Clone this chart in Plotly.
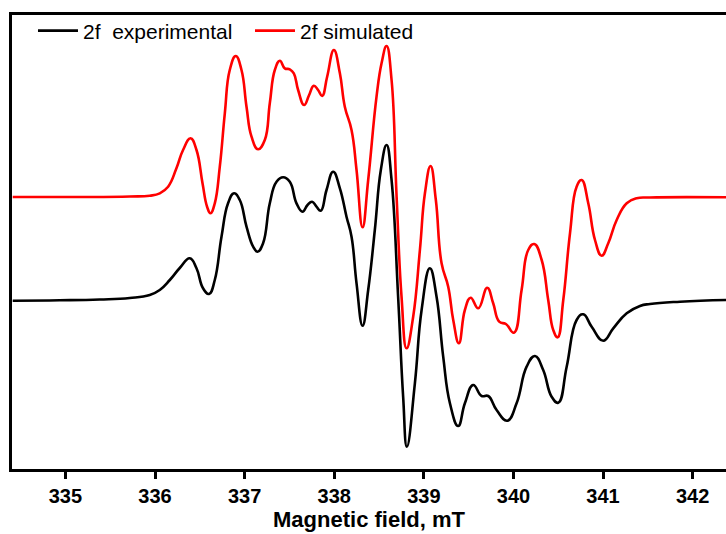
import plotly.graph_objects as go

# Magnetic field (mT) and first-derivative EPR intensity (a.u.)
field_exp = [334.412, 334.936, 335.383, 335.718, 335.941, 336.053, 336.165, 336.276,
             336.388, 336.463, 336.536, 336.603, 336.667, 336.742, 336.815, 336.882,
             336.946, 337.021, 337.095, 337.144, 337.206, 337.281, 337.356, 337.430,
             337.504, 337.579, 337.646, 337.702, 337.753, 337.802, 337.850, 337.914,
             337.988, 338.063, 338.137, 338.193, 338.249, 338.316, 338.379, 338.453,
             338.520, 338.584, 338.640, 338.713, 338.769, 338.811, 338.900, 338.975,
             339.067, 339.142, 339.216, 339.291, 339.383, 339.458, 339.551, 339.645,
             339.718, 339.812, 339.931, 340.035, 340.147, 340.240, 340.332, 340.426,
             340.500, 340.594, 340.705, 340.779, 340.873, 341.002, 341.114, 341.264,
             341.412, 341.524, 341.859, 342.372]
int_exp = [-0.7, -0.3, 0.5, 2, 5, 10, 20, 32,
           41.7, 31.7, 11.7, 6, 20, 63.3, 96.7, 106.7,
           100, 73.3, 53.3, 48.3, 56.7, 96.7, 118.3, 122.7,
           118.3, 96.7, 88.3, 95, 98.3, 93.3, 89.3, 110,
           128.3, 111.7, 83.3, 63.3, 16.7, -25.7, 10, 70,
           130, 155, 120, 3.3, -96.7, -146.7, -83.3, -10,
           31.7, 3.3, -56.7, -103.3, -126, -103.3, -85, -96,
           -96, -110, -120.7, -103.3, -66.7, -56, -70, -96.7,
           -102.7, -66.7, -20, -14.3, -26.7, -40.7, -28.3, -13.3,
           -6, -4, -1.7, 0]

field_sim = [334.412, 335.160, 335.718, 335.941, 336.053, 336.146, 336.239, 336.313,
             336.396, 336.463, 336.530, 336.581, 336.619, 336.667, 336.723, 336.779,
             336.834, 336.901, 336.965, 337.021, 337.077, 337.150, 337.225, 337.281,
             337.337, 337.393, 337.448, 337.504, 337.549, 337.597, 337.664, 337.720,
             337.772, 337.820, 337.865, 337.921, 337.996, 338.063, 338.118, 338.193,
             338.249, 338.316, 338.379, 338.472, 338.528, 338.584, 338.640, 338.696,
             338.751, 338.807, 338.881, 338.956, 339.012, 339.075, 339.134, 339.198,
             339.272, 339.328, 339.391, 339.458, 339.522, 339.607, 339.707, 339.774,
             339.841, 339.916, 340.005, 340.091, 340.165, 340.232, 340.315, 340.388,
             340.444, 340.493, 340.556, 340.631, 340.705, 340.761, 340.835, 340.910,
             340.984, 341.058, 341.152, 341.264, 341.375, 341.524, 342.372]
int_sim = [0, 0, 0.5, 1.3, 3.7, 10.3, 28.7, 47,
           58.7, 47, 13.7, -9.7, -16.3, -6.3, 30.3, 83.7,
           127, 141, 127, 90.3, 60.3, 47.7, 57, 93.7,
           127, 136.3, 128.7, 127.7, 123.7, 107, 92, 102,
           111.3, 107, 101, 120.3, 147, 123.7, 90.3, 67,
           27, -30.3, 17, 100.3, 133.7, 151, 117, 0.3,
           -99.7, -151.3, -119.7, -53, 3.7, 31, -3, -66.3,
           -89.7, -123, -146.3, -113, -100.7, -111.3, -90.7, -106.3,
           -124.7, -127, -135.7, -93, -53, -47, -63, -103,
           -133, -140.3, -103, -36.3, 10.3, 17, -6.3, -43,
           -58.7, -46.3, -23, -6.3, -1.3, -0.5, -0.3]

offset_exp = 0
offset_sim = 103

x_ticks = [335, 336, 337, 338, 339, 340, 341, 342]

FONT = "Liberation Sans, Arial, sans-serif"

fig = go.Figure()
fig.add_trace(go.Scatter(
    x=field_exp, y=[v + offset_exp for v in int_exp], mode="lines",
    name="2f\u00a0 experimental",
    line=dict(color="black", width=2.6, shape="spline", smoothing=1.3)))
fig.add_trace(go.Scatter(
    x=field_sim, y=[v + offset_sim for v in int_sim], mode="lines",
    name="2f simulated",
    line=dict(color="#ff0000", width=2.6, shape="spline", smoothing=1.3)))

fig.update_layout(
    width=726, height=534,
    margin=dict(l=12, r=0, t=15, b=65),
    paper_bgcolor="white", plot_bgcolor="white",
    font=dict(family=FONT, color="black"),
    showlegend=True,
    legend=dict(orientation="h", x=0.0294, y=1.01, xanchor="left", yanchor="top",
                font=dict(size=21, family=FONT, color="black"),
                bgcolor="rgba(0,0,0,0)", itemwidth=40, tracegroupgap=0,
                entrywidth=162, entrywidthmode="pixels"),
    xaxis=dict(range=[334.404, 342.372], tickvals=x_ticks,
               ticktext=["<b>%d</b>" % t for t in x_ticks],
               showline=True, linecolor="black", linewidth=3, mirror=True,
               ticks="outside", ticklen=7, tickwidth=3, tickcolor="black",
               showgrid=False, zeroline=False,
               tickfont=dict(size=20, family=FONT, color="black"),
               title=dict(text="<b>Magnetic field, mT</b>", standoff=6,
                          font=dict(size=22, family=FONT, color="black"))),
    yaxis=dict(range=[-169, 285], showline=True, linecolor="black", linewidth=3,
               showticklabels=False, ticks="", showgrid=False, zeroline=False),
)

fig.write_html("out.html")
